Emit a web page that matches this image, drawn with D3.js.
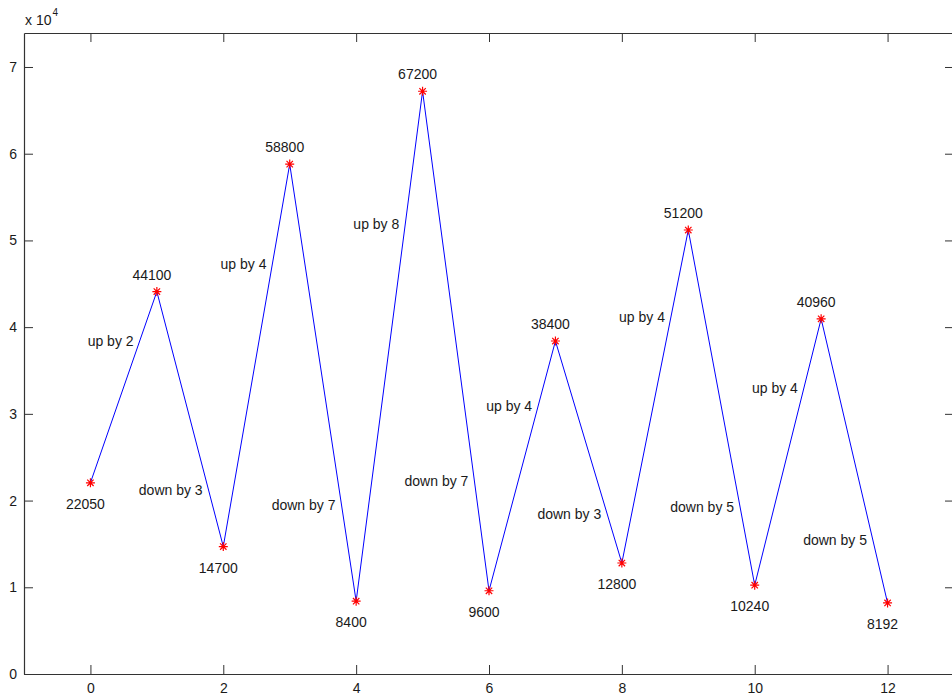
<!DOCTYPE html>
<html>
<head>
<meta charset="utf-8">
<script src="https://cdn.jsdelivr.net/npm/d3@7"></script>
<style>
  body { margin: 0; background: #fff; }
  svg text { font-family: "Liberation Sans", Arial, sans-serif; fill: #1a1a1a; }
</style>
</head>
<body>
<div id="chart"></div>
<script>
// data
const xs = [0, 1, 2, 3, 4, 5, 6, 7, 8, 9, 10, 11, 12];
const values = [22050, 44100, 14700, 58800, 8400, 67200, 9600, 38400, 12800, 51200, 10240, 40960, 8192];
const stepLabels = ['up by 2', 'down by 3', 'up by 4', 'down by 7', 'up by 8', 'down by 7',
  'up by 4', 'down by 3', 'up by 4', 'down by 5', 'up by 4', 'down by 5'];
const xTicks = [0, 2, 4, 6, 8, 10, 12];
const yTicks = [0, 10000, 20000, 30000, 40000, 50000, 60000, 70000];

const width = 952, height = 698;
const box = { left: 24, right: 954, top: 33, bottom: 674 };

const svg = d3.select('#chart')
  .append('svg')
  .attr('width', width)
  .attr('height', height);

const x = d3.scaleLinear().domain([-1, 13]).range([box.left, box.right]);
const y = d3.scaleLinear().domain([0, d3.max(values) * 1.1]).range([box.bottom, box.top]);

const axisColor = '#333';
const styleAxis = g => {
  g.select('.domain').attr('stroke', axisColor);
  g.selectAll('.tick line').attr('stroke', axisColor);
  g.selectAll('.tick text').attr('font-size', 14).attr('fill', '#1a1a1a');
};

svg.append('g')
  .attr('transform', `translate(0,${box.bottom})`)
  .call(d3.axisBottom(x).tickValues(xTicks).tickSizeInner(-9).tickSizeOuter(0).tickPadding(9))
  .call(styleAxis);

svg.append('g')
  .attr('transform', `translate(0,${box.top})`)
  .call(d3.axisTop(x).tickValues(xTicks).tickSizeInner(-9).tickSizeOuter(0).tickFormat(''))
  .call(styleAxis);

svg.append('g')
  .attr('transform', `translate(${box.left},0)`)
  .call(d3.axisLeft(y).tickValues(yTicks).tickSizeInner(-9).tickSizeOuter(0).tickPadding(7)
    .tickFormat(d => d / 10000))
  .call(styleAxis);

svg.append('g')
  .attr('transform', `translate(${box.right},0)`)
  .call(d3.axisRight(y).tickValues(yTicks).tickSizeInner(-9).tickSizeOuter(0).tickFormat(''))
  .call(styleAxis);

svg.selectAll('.domain').attr('stroke-width', 1.2);

// exponent label
const expo = svg.append('text')
  .attr('x', box.left + 1)
  .attr('y', 25)
  .attr('font-size', 14);
expo.append('tspan').text('x 10');
expo.append('tspan').attr('font-size', 10).attr('dy', -9).attr('dx', 1).text('4');

const points = xs.map((d, i) => ({ x: d, v: values[i] }));

// line
svg.append('path')
  .datum(points)
  .attr('fill', 'none')
  .attr('stroke', '#0000ff')
  .attr('stroke-width', 1)
  .attr('d', d3.line().x(d => x(d.x)).y(d => y(d.v)));

// asterisk markers
const marker = svg.selectAll('.marker')
  .data(points)
  .enter()
  .append('g')
  .attr('class', 'marker')
  .attr('transform', d => `translate(${x(d.x)},${y(d.v)})`)
  .attr('stroke', '#ff0000')
  .attr('stroke-width', 1.2);
marker.append('path').attr('d', 'M-4.5,0H4.5M0,-4.5V4.5M-3.2,-3.2L3.2,3.2M-3.2,3.2L3.2,-3.2');

// value labels
svg.selectAll('.vlabel')
  .data(points)
  .enter()
  .append('text')
  .attr('class', 'vlabel')
  .attr('font-size', 14)
  .attr('text-anchor', 'middle')
  .attr('x', d => x(d.x) - 5)
  .attr('y', (d, i) => i % 2 === 1 ? y(d.v) - 12 : y(d.v) + 26)
  .text(d => d.v);

// step labels, placed left of each segment
const tUp = 0.74, tDown = 0.78;
svg.selectAll('.slabel')
  .data(stepLabels)
  .enter()
  .append('text')
  .attr('class', 'slabel')
  .attr('font-size', 14)
  .attr('text-anchor', 'end')
  .attr('x', (d, i) => x(xs[i] + (i % 2 === 0 ? tUp : tDown)) - 6)
  .attr('y', (d, i) => {
    const t = i % 2 === 0 ? tUp : tDown;
    return y(values[i] + t * (values[i + 1] - values[i])) + 5;
  })
  .text(d => d);
</script>
</body>
</html>
